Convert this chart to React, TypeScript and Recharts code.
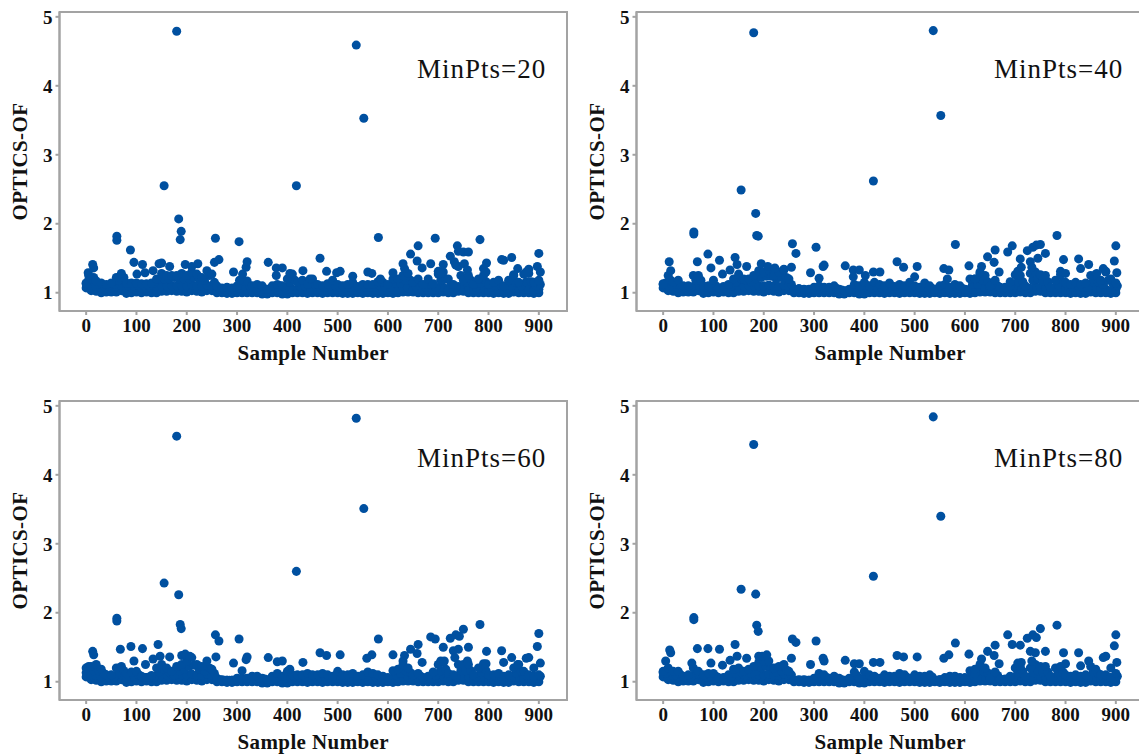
import { ScatterChart, Scatter, XAxis, YAxis, ZAxis, ReferenceArea, Label } from "recharts"

const sampleNumbers = [
  0, 10, 20, 30, 40, 50, 60, 70, 80, 90,
  100, 110, 120, 130, 140, 150, 160, 170, 180, 190,
  200, 210, 220, 230, 240, 250, 260, 270, 280, 290,
  300, 310, 320, 330, 340, 350, 360, 370, 380, 390,
  400, 410, 420, 430, 440, 450, 460, 470, 480, 490,
  500, 510, 520, 530, 540, 550, 560, 570, 580, 590,
  600, 610, 620, 630, 640, 650, 660, 670, 680, 690,
  700, 710, 720, 730, 740, 750, 760, 770, 780, 790,
  800, 810, 820, 830, 840, 850, 860, 870, 880, 890,
  900,
]
const shoulderSamples = [
  5, 15, 25, 35, 45, 55, 65, 75, 85, 95,
  105, 115, 125, 135, 145, 155, 165, 175, 185, 195,
  205, 215, 225, 235, 245, 255, 265, 275, 285, 295,
  305, 315, 325, 335, 345, 355, 365, 375, 385, 395,
  405, 415, 425, 435, 445, 455, 465, 475, 485, 495,
  505, 515, 525, 535, 545, 555, 565, 575, 585, 595,
  605, 615, 625, 635, 645, 655, 665, 675, 685, 695,
  705, 715, 725, 735, 745, 755, 765, 775, 785, 795,
  805, 815, 825, 835, 845, 855, 865, 875, 885, 895,
  903,
]

// bottom edge and inner row of the dense band, about the same in all four plots
const floorValues = [
  1.07, 1.03, 1.02, 1.0, 1.01, 1.01, 1.01, 1.03, 0.99, 1.0,
  1.01, 1.0, 1.01, 1.0, 1.0, 1.02, 1.02, 1.03, 1.02, 1.02,
  1.01, 1.03, 1.02, 1.01, 1.03, 1.03, 1.0, 1.0, 0.99, 0.99,
  1.0, 1.0, 1.0, 1.0, 1.0, 0.98, 0.98, 1.0, 1.0, 0.98,
  0.98, 1.0, 1.0, 1.0, 0.99, 1.0, 1.0, 0.99, 1.0, 1.0,
  1.0, 0.99, 0.99, 0.99, 1.0, 0.99, 1.0, 0.99, 0.99, 0.99,
  1.0, 0.99, 1.0, 1.01, 1.01, 1.01, 1.0, 1.0, 1.0, 1.0,
  1.0, 1.01, 1.0, 1.0, 1.02, 1.02, 1.0, 1.0, 1.0, 1.0,
  1.0, 0.99, 1.0, 0.99, 0.99, 1.01, 1.0, 1.0, 1.0, 0.99,
  1.0,
]
const innerValues = [
  1.13, 1.1, 1.09, 1.07, 1.07, 1.07, 1.09, 1.1, 1.06, 1.07,
  1.08, 1.06, 1.06, 1.07, 1.09, 1.1, 1.1, 1.1, 1.1, 1.1,
  1.1, 1.11, 1.1, 1.09, 1.11, 1.1, 1.02, 1.02, 1.02, 1.02,
  1.03, 1.04, 1.04, 1.03, 1.04, 1.02, 1.01, 1.03, 1.04, 1.03,
  1.05, 1.05, 1.04, 1.04, 1.03, 1.04, 1.03, 1.03, 1.04, 1.03,
  1.04, 1.03, 1.03, 1.04, 1.02, 1.03, 1.04, 1.03, 1.03, 1.03,
  1.02, 1.05, 1.05, 1.08, 1.07, 1.04, 1.05, 1.03, 1.03, 1.04,
  1.07, 1.08, 1.04, 1.06, 1.09, 1.08, 1.07, 1.03, 1.06, 1.07,
  1.04, 1.04, 1.04, 1.03, 1.04, 1.07, 1.06, 1.05, 1.05, 1.03,
  1.05,
]

const shoulder20 = [
  1.18, 1.22, 1.12, 1.1, 1.1, 1.12, 1.18, 1.22, 1.1, 1.1,
  1.1, 1.1, 1.1, 1.14, 1.2, 1.2, 1.2, 1.22, 1.2, 1.2,
  1.2, 1.22, 1.2, 1.18, 1.25, 1.15, 1.05, 1.05, 1.05, 1.05,
  1.06, 1.1, 1.1, 1.07, 1.08, 1.05, 1.04, 1.07, 1.1, 1.08,
  1.15, 1.18, 1.1, 1.1, 1.08, 1.12, 1.08, 1.08, 1.1, 1.1,
  1.08, 1.07, 1.08, 1.08, 1.06, 1.08, 1.08, 1.08, 1.1, 1.08,
  1.08, 1.14, 1.14, 1.18, 1.18, 1.1, 1.12, 1.08, 1.12, 1.08,
  1.18, 1.2, 1.12, 1.08, 1.25, 1.15, 1.18, 1.08, 1.14, 1.16,
  1.08, 1.1, 1.1, 1.06, 1.1, 1.15, 1.1, 1.16, 1.16, 1.1,
  1.12,
]
const shoulder40 = [
  1.14, 1.18, 1.12, 1.1, 1.08, 1.08, 1.18, 1.18, 1.08, 1.08,
  1.1, 1.06, 1.06, 1.1, 1.15, 1.2, 1.18, 1.16, 1.2, 1.22,
  1.24, 1.24, 1.2, 1.22, 1.22, 1.12, 1.04, 1.04, 1.04, 1.04,
  1.05, 1.07, 1.06, 1.05, 1.06, 1.04, 1.03, 1.05, 1.08, 1.06,
  1.1, 1.07, 1.08, 1.07, 1.06, 1.08, 1.06, 1.08, 1.06, 1.08,
  1.06, 1.05, 1.08, 1.06, 1.04, 1.06, 1.07, 1.05, 1.07, 1.06,
  1.04, 1.12, 1.12, 1.18, 1.16, 1.07, 1.1, 1.06, 1.06, 1.06,
  1.16, 1.16, 1.07, 1.18, 1.2, 1.17, 1.16, 1.06, 1.12, 1.16,
  1.1, 1.08, 1.1, 1.08, 1.08, 1.16, 1.16, 1.12, 1.18, 1.12,
  1.1,
]
const shoulder60 = [
  1.22, 1.16, 1.16, 1.12, 1.07, 1.07, 1.14, 1.16, 1.08, 1.08,
  1.1, 1.06, 1.05, 1.07, 1.14, 1.18, 1.14, 1.1, 1.16, 1.18,
  1.22, 1.24, 1.18, 1.16, 1.2, 1.12, 1.03, 1.02, 1.02, 1.02,
  1.04, 1.04, 1.04, 1.05, 1.05, 1.04, 1.02, 1.05, 1.08, 1.05,
  1.08, 1.07, 1.07, 1.07, 1.07, 1.07, 1.07, 1.08, 1.06, 1.05,
  1.09, 1.06, 1.07, 1.08, 1.05, 1.07, 1.09, 1.07, 1.07, 1.05,
  1.04, 1.1, 1.12, 1.16, 1.13, 1.07, 1.08, 1.04, 1.05, 1.09,
  1.16, 1.18, 1.08, 1.07, 1.16, 1.16, 1.16, 1.07, 1.13, 1.16,
  1.07, 1.07, 1.08, 1.06, 1.07, 1.13, 1.15, 1.1, 1.07, 1.05,
  1.08,
]
const shoulder80 = [
  1.12, 1.15, 1.1, 1.1, 1.06, 1.07, 1.14, 1.1, 1.07, 1.08,
  1.08, 1.04, 1.04, 1.07, 1.12, 1.14, 1.1, 1.12, 1.15, 1.2,
  1.22, 1.2, 1.14, 1.16, 1.17, 1.1, 1.02, 1.02, 1.02, 1.02,
  1.03, 1.08, 1.06, 1.04, 1.05, 1.03, 1.02, 1.04, 1.09, 1.04,
  1.1, 1.07, 1.05, 1.04, 1.07, 1.05, 1.05, 1.08, 1.06, 1.04,
  1.07, 1.05, 1.05, 1.07, 1.02, 1.03, 1.04, 1.05, 1.05, 1.04,
  1.04, 1.1, 1.08, 1.16, 1.13, 1.04, 1.09, 1.03, 1.03, 1.05,
  1.13, 1.15, 1.06, 1.13, 1.16, 1.14, 1.14, 1.06, 1.13, 1.14,
  1.07, 1.06, 1.07, 1.06, 1.07, 1.14, 1.12, 1.07, 1.07, 1.04,
  1.08,
]

const crest20 = [
  1.14, 1.2, 1.17, 1.14, 1.12, 1.14, 1.22, 1.28, 1.14, 1.14,
  1.14, 1.13, 1.13, 1.14, 1.2, 1.28, 1.25, 1.25, 1.25, 1.28,
  1.25, 1.3, 1.27, 1.22, 1.32, 1.27, 1.1, 1.07, 1.08, 1.07,
  1.1, 1.17, 1.17, 1.1, 1.12, 1.1, 1.05, 1.1, 1.12, 1.1,
  1.2, 1.27, 1.15, 1.18, 1.12, 1.2, 1.12, 1.1, 1.13, 1.18,
  1.12, 1.1, 1.12, 1.15, 1.09, 1.12, 1.12, 1.12, 1.16, 1.15,
  1.12, 1.2, 1.2, 1.25, 1.28, 1.15, 1.2, 1.12, 1.2, 1.13,
  1.27, 1.3, 1.2, 1.12, 1.38, 1.18, 1.25, 1.12, 1.2, 1.25,
  1.12, 1.15, 1.18, 1.1, 1.18, 1.25, 1.15, 1.27, 1.28, 1.15,
  1.18,
]
const crest40 = [
  1.12, 1.25, 1.15, 1.18, 1.1, 1.1, 1.25, 1.25, 1.1, 1.1,
  1.18, 1.07, 1.09, 1.12, 1.2, 1.27, 1.2, 1.2, 1.25, 1.32,
  1.3, 1.33, 1.25, 1.3, 1.33, 1.2, 1.05, 1.06, 1.05, 1.05,
  1.08, 1.1, 1.08, 1.08, 1.1, 1.05, 1.03, 1.05, 1.12, 1.1,
  1.15, 1.1, 1.15, 1.12, 1.1, 1.14, 1.09, 1.12, 1.1, 1.15,
  1.1, 1.08, 1.14, 1.1, 1.05, 1.1, 1.12, 1.08, 1.12, 1.1,
  1.05, 1.2, 1.2, 1.28, 1.25, 1.1, 1.18, 1.08, 1.08, 1.1,
  1.26, 1.25, 1.1, 1.28, 1.3, 1.26, 1.25, 1.08, 1.18, 1.26,
  1.15, 1.12, 1.15, 1.12, 1.14, 1.25, 1.26, 1.18, 1.3, 1.2,
  1.14,
]
const crest60 = [
  1.2, 1.22, 1.25, 1.18, 1.1, 1.1, 1.2, 1.22, 1.12, 1.14,
  1.15, 1.08, 1.06, 1.09, 1.2, 1.25, 1.2, 1.15, 1.22, 1.25,
  1.3, 1.35, 1.25, 1.22, 1.3, 1.18, 1.05, 1.03, 1.02, 1.02,
  1.05, 1.05, 1.05, 1.08, 1.08, 1.05, 1.03, 1.08, 1.12, 1.08,
  1.15, 1.1, 1.1, 1.1, 1.12, 1.1, 1.1, 1.12, 1.1, 1.08,
  1.15, 1.1, 1.1, 1.12, 1.08, 1.1, 1.14, 1.12, 1.1, 1.08,
  1.06, 1.16, 1.18, 1.25, 1.2, 1.1, 1.12, 1.06, 1.08, 1.14,
  1.25, 1.28, 1.12, 1.1, 1.25, 1.25, 1.25, 1.1, 1.2, 1.26,
  1.1, 1.1, 1.12, 1.08, 1.1, 1.2, 1.25, 1.15, 1.1, 1.08,
  1.1,
]
const crest80 = [
  1.15, 1.2, 1.15, 1.15, 1.08, 1.1, 1.2, 1.15, 1.1, 1.12,
  1.12, 1.05, 1.05, 1.1, 1.18, 1.2, 1.15, 1.18, 1.22, 1.28,
  1.3, 1.3, 1.2, 1.22, 1.25, 1.15, 1.02, 1.03, 1.03, 1.02,
  1.05, 1.12, 1.1, 1.05, 1.08, 1.05, 1.02, 1.05, 1.14, 1.05,
  1.15, 1.1, 1.08, 1.05, 1.1, 1.08, 1.08, 1.12, 1.1, 1.05,
  1.1, 1.08, 1.08, 1.1, 1.02, 1.03, 1.06, 1.08, 1.08, 1.06,
  1.06, 1.16, 1.12, 1.25, 1.2, 1.05, 1.14, 1.04, 1.04, 1.08,
  1.2, 1.22, 1.08, 1.2, 1.25, 1.22, 1.22, 1.08, 1.2, 1.22,
  1.1, 1.08, 1.1, 1.08, 1.1, 1.22, 1.18, 1.1, 1.1, 1.06,
  1.12,
]

// points that stand clear of the band, [sample, value]
const peaks20 = [
  [180, 4.79], [537, 4.59], [552, 3.53], [155, 2.55], [418, 2.55], [184, 2.07], [189, 1.89], [187, 1.77],
  [61, 1.82], [61, 1.76], [88, 1.62], [257, 1.79], [304, 1.74], [581, 1.8], [95, 1.44], [112, 1.41],
  [101, 1.27], [117, 1.29], [13, 1.41], [15, 1.36], [4, 1.29], [5, 1.25], [145, 1.42], [150, 1.43],
  [133, 1.32], [166, 1.38], [197, 1.41], [222, 1.42], [210, 1.38], [255, 1.44], [264, 1.48], [293, 1.3],
  [305, 1.18], [311, 1.27], [318, 1.37], [320, 1.45], [362, 1.44], [378, 1.36], [378, 1.25], [390, 1.36],
  [405, 1.28], [431, 1.32], [445, 1.2], [465, 1.5], [478, 1.31], [498, 1.29], [505, 1.31], [530, 1.24],
  [560, 1.3], [568, 1.28], [585, 1.2], [610, 1.29], [630, 1.42], [633, 1.35], [645, 1.56], [658, 1.46],
  [660, 1.68], [668, 1.36], [685, 1.42], [694, 1.79], [700, 1.31], [705, 1.29], [710, 1.41], [724, 1.53],
  [732, 1.45], [735, 1.4], [738, 1.68], [740, 1.6], [750, 1.59], [760, 1.59], [752, 1.42], [758, 1.33],
  [783, 1.77], [790, 1.35], [796, 1.43], [795, 1.3], [826, 1.48], [830, 1.47], [846, 1.51], [858, 1.35],
  [880, 1.34], [897, 1.38], [900, 1.57], [903, 1.3], [850, 1.26], [875, 1.3],
]
const peaks40 = [
  [180, 4.77], [537, 4.8], [552, 3.57], [155, 2.49], [418, 2.62], [184, 2.15], [186, 1.83], [189, 1.82],
  [61, 1.88], [61, 1.85], [257, 1.71], [304, 1.66], [264, 1.57], [89, 1.56], [112, 1.47], [143, 1.51],
  [12, 1.45], [147, 1.41], [68, 1.45], [95, 1.36], [15, 1.32], [118, 1.27], [133, 1.33], [166, 1.38],
  [195, 1.42], [208, 1.38], [222, 1.36], [240, 1.34], [255, 1.37], [293, 1.29], [310, 1.21], [318, 1.38],
  [320, 1.4], [362, 1.39], [378, 1.33], [378, 1.23], [390, 1.33], [402, 1.25], [418, 1.3], [431, 1.3],
  [465, 1.45], [478, 1.37], [505, 1.38], [500, 1.23], [558, 1.35], [568, 1.33], [565, 1.2], [581, 1.7],
  [608, 1.39], [620, 1.2], [633, 1.38], [630, 1.3], [645, 1.52], [658, 1.44], [660, 1.62], [668, 1.3],
  [685, 1.59], [694, 1.68], [690, 1.16], [710, 1.49], [705, 1.31], [712, 1.37], [724, 1.61], [735, 1.66],
  [742, 1.69], [750, 1.7], [730, 1.45], [745, 1.5], [760, 1.57], [733, 1.37], [783, 1.83], [796, 1.48],
  [790, 1.31], [800, 1.28], [826, 1.49], [830, 1.35], [846, 1.41], [862, 1.28], [875, 1.35], [880, 1.31],
  [897, 1.46], [900, 1.68], [902, 1.29],
]
const peaks60 = [
  [180, 4.56], [537, 4.82], [552, 3.51], [155, 2.43], [418, 2.6], [184, 2.26], [187, 1.83], [189, 1.77],
  [61, 1.92], [61, 1.88], [257, 1.68], [264, 1.59], [304, 1.62], [13, 1.44], [15, 1.39], [68, 1.47],
  [89, 1.51], [112, 1.48], [143, 1.54], [147, 1.37], [95, 1.3], [118, 1.25], [133, 1.33], [166, 1.36],
  [190, 1.38], [197, 1.4], [206, 1.37], [258, 1.36], [293, 1.27], [310, 1.16], [318, 1.32], [320, 1.36],
  [362, 1.35], [380, 1.29], [390, 1.3], [405, 1.18], [431, 1.28], [465, 1.42], [478, 1.38], [505, 1.39],
  [558, 1.34], [568, 1.39], [581, 1.62], [610, 1.39], [633, 1.38], [630, 1.3], [645, 1.47], [658, 1.41],
  [660, 1.54], [668, 1.28], [685, 1.65], [694, 1.62], [710, 1.5], [705, 1.3], [712, 1.3], [724, 1.63],
  [735, 1.68], [742, 1.66], [750, 1.76], [730, 1.45], [740, 1.47], [733, 1.35], [760, 1.5], [758, 1.3],
  [783, 1.83], [796, 1.44], [795, 1.26], [826, 1.45], [830, 1.28], [846, 1.35], [858, 1.25], [875, 1.34],
  [880, 1.35], [890, 1.2], [897, 1.51], [900, 1.7], [903, 1.27],
]
const peaks80 = [
  [180, 4.44], [537, 4.84], [552, 3.4], [155, 2.34], [418, 2.53], [184, 2.27], [186, 1.82], [189, 1.73],
  [61, 1.93], [61, 1.9], [257, 1.62], [264, 1.57], [304, 1.59], [13, 1.46], [15, 1.42], [68, 1.48],
  [89, 1.48], [112, 1.47], [143, 1.54], [147, 1.37], [95, 1.27], [118, 1.24], [133, 1.31], [57, 1.27],
  [5, 1.3], [166, 1.34], [190, 1.37], [197, 1.37], [206, 1.39], [255, 1.34], [293, 1.25], [318, 1.34],
  [320, 1.3], [362, 1.31], [380, 1.26], [390, 1.26], [418, 1.28], [431, 1.28], [465, 1.38], [478, 1.36],
  [505, 1.36], [558, 1.34], [568, 1.39], [581, 1.56], [608, 1.4], [620, 1.18], [633, 1.33], [645, 1.44],
  [658, 1.38], [660, 1.53], [668, 1.26], [685, 1.68], [694, 1.54], [710, 1.53], [705, 1.27], [712, 1.28],
  [724, 1.63], [735, 1.68], [742, 1.64], [750, 1.77], [730, 1.44], [740, 1.42], [733, 1.3], [760, 1.44],
  [783, 1.82], [796, 1.42], [800, 1.26], [826, 1.42], [830, 1.23], [846, 1.3], [875, 1.35], [880, 1.37],
  [890, 1.2], [897, 1.52], [900, 1.68], [902, 1.28],
]

const xTicks = [0, 100, 200, 300, 400, 500, 600, 700, 800, 900]
const yTicks = [1, 2, 3, 4, 5]
const xDomain = [-53, 956]
const yDomain = [0.735, 5.07]

const GRAY = "#a3a3a3"
const BLUE = "#0050a0"
const SERIF = "'Liberation Serif', serif"

function buildPoints(shoulder: number[], crest: number[], peaks: number[][]) {
  const row = (xs: number[], ys: number[]) => xs.map((x, i) => ({ x, y: ys[i] }))
  return [
    ...row(sampleNumbers, floorValues),
    ...row(sampleNumbers, innerValues),
    ...row(shoulderSamples, shoulder),
    ...row(sampleNumbers, crest),
    ...peaks.map(([x, y]) => ({ x, y })),
  ]
}

function Panel({ name, shoulder, crest, peaks, left, top }: { name: string; shoulder: number[]; crest: number[]; peaks: number[][]; left: number; top: number }) {
  const tickStyle = { fontFamily: SERIF, fontWeight: 700, fontSize: 19, fill: "#111" }
  const titleStyle = { fontFamily: SERIF, fontWeight: 700, fontSize: 21, fill: "#111", letterSpacing: 0.4 }
  return (
    <div style={{ position: "absolute", left, top, width: 570, height: 380 }}>
      <ScatterChart width={570} height={380} margin={{ top: 12, right: 3, bottom: 9, left: 9.5 }}>
        <XAxis
          type="number"
          dataKey="x"
          domain={xDomain}
          ticks={xTicks}
          interval={0}
          allowDataOverflow
          height={60}
          stroke={GRAY}
          strokeWidth={2}
          tickSize={4}
          tickMargin={4}
          tick={tickStyle}
        >
          <Label value="Sample Number" position="insideTop" offset={34} style={titleStyle} />
        </XAxis>
        <YAxis
          type="number"
          dataKey="y"
          domain={yDomain}
          ticks={yTicks}
          interval={0}
          allowDataOverflow
          width={50}
          stroke={GRAY}
          strokeWidth={2}
          tickSize={4}
          tickMargin={3}
          tick={tickStyle}
        >
          <Label value="OPTICS-OF" angle={-90} position="insideLeft" offset={10} style={{ ...titleStyle, textAnchor: "middle" }} />
        </YAxis>
        <ZAxis range={[58, 58]} />
        <ReferenceArea x1={xDomain[0]} x2={xDomain[1]} y1={yDomain[0]} y2={yDomain[1]} fill="none" stroke={GRAY} strokeWidth={2} />
        <Scatter data={buildPoints(shoulder, crest, peaks)} fill={BLUE} isAnimationActive={false} />
      </ScatterChart>
      <div style={{ position: "absolute", left: 417, top: 54, fontFamily: SERIF, fontSize: 27, letterSpacing: 1, color: "#111", whiteSpace: "nowrap" }}>
        {name}
      </div>
    </div>
  )
}

export default function App() {
  return (
    <div style={{ position: "absolute", left: 0, top: 0, width: 1139, height: 756, overflow: "hidden", background: "#fff" }}>
      <Panel name="MinPts=20" shoulder={shoulder20} crest={crest20} peaks={peaks20} left={0} top={0} />
      <Panel name="MinPts=40" shoulder={shoulder40} crest={crest40} peaks={peaks40} left={577} top={0} />
      <Panel name="MinPts=60" shoulder={shoulder60} crest={crest60} peaks={peaks60} left={0} top={389} />
      <Panel name="MinPts=80" shoulder={shoulder80} crest={crest80} peaks={peaks80} left={577} top={389} />
    </div>
  )
}
